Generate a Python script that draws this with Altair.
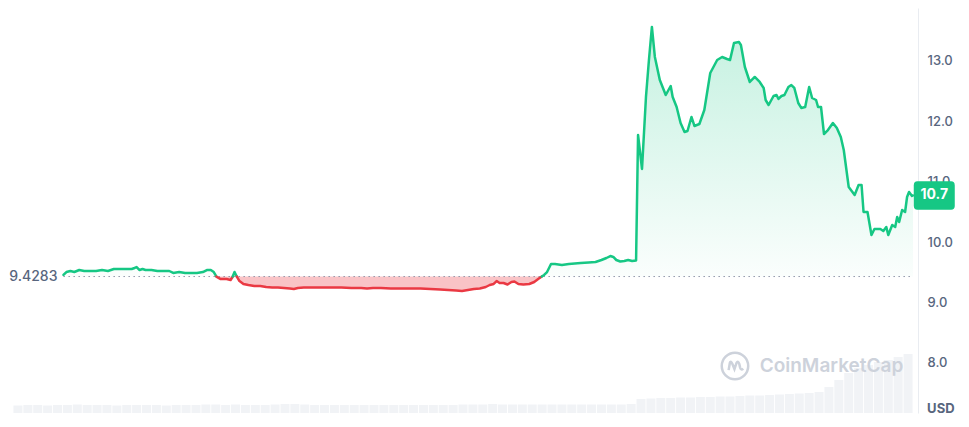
import altair as alt
import pandas as pd

BASE = 9.4283
BASE_LABEL = "9.4283"
LAST_LABEL = "10.7"
Y_TICKS = [8.0, 9.0, 10.0, 11.0, 12.0, 13.0]

# time (x position units) and price
T = [59, 62, 66, 70, 75, 80, 86, 92, 98, 104, 110, 116, 122, 128, 131, 133, 136, 139, 142, 148,
     154, 160, 166, 170, 176, 182, 188, 194, 200, 204, 208, 211, 214, 218, 224, 228, 230, 232, 234, 237,
     241, 246, 252, 258, 264, 270, 276, 282, 288, 292, 296, 302, 310, 320, 330, 340, 350, 360, 366, 372,
     380, 390, 400, 410, 420, 430, 440, 448, 456, 462, 468, 474, 480, 486, 490, 494, 497, 500, 504, 508,
     512, 515, 519, 524, 530, 535, 539, 542, 545, 548, 552, 556, 563, 570, 576, 582, 590, 597, 603, 608,
     612, 615, 618, 622, 626, 630, 634, 638, 640, 642, 644, 648, 651, 654, 657, 662, 668, 673, 675, 679,
     683, 687, 690, 694, 697, 702, 707, 713, 720, 725, 730, 733, 737, 742, 744, 748, 753, 758, 763, 767,
     769, 772, 777, 780, 782, 785, 788, 792, 795, 798, 802, 805, 809, 813, 816, 820, 822, 825, 828, 832,
     837, 841, 845, 848, 853, 856, 859, 863, 866, 868, 872, 876, 879, 885, 888, 891, 893, 897, 900, 902,
     904, 907, 910, 912, 914, 917, 918]
PRICE = [9.454, 9.503, 9.520, 9.503, 9.536, 9.520, 9.520, 9.520, 9.536, 9.520, 9.553, 9.553, 9.553, 9.553, 9.570, 9.586, 9.536, 9.553, 9.536, 9.536,
         9.520, 9.520, 9.520, 9.487, 9.503, 9.487, 9.487, 9.487, 9.503, 9.536, 9.536, 9.503, 9.421, 9.387, 9.387, 9.371, 9.421, 9.503, 9.437, 9.354,
         9.305, 9.288, 9.272, 9.272, 9.255, 9.247, 9.247, 9.238, 9.230, 9.222, 9.238, 9.247, 9.247, 9.247, 9.247, 9.247, 9.238, 9.238, 9.230, 9.238,
         9.238, 9.230, 9.230, 9.230, 9.230, 9.222, 9.214, 9.205, 9.197, 9.189, 9.205, 9.222, 9.230, 9.255, 9.288, 9.305, 9.354, 9.321, 9.321, 9.296,
         9.338, 9.346, 9.305, 9.296, 9.305, 9.338, 9.387, 9.421, 9.454, 9.503, 9.636, 9.636, 9.619, 9.636, 9.644, 9.652, 9.661, 9.669, 9.702, 9.735,
         9.768, 9.752, 9.702, 9.677, 9.685, 9.702, 9.685, 9.694, 11.772, 11.490, 11.209, 12.401, 13.013, 13.560, 13.063, 12.682, 12.434, 12.583, 12.401, 12.235,
         11.970, 11.821, 11.838, 12.070, 11.921, 11.954, 12.185, 12.798, 13.013, 13.063, 13.030, 13.013, 13.295, 13.311, 13.262, 12.897, 12.649, 12.732, 12.649, 12.550,
         12.351, 12.268, 12.417, 12.434, 12.368, 12.417, 12.434, 12.566, 12.599, 12.550, 12.301, 12.219, 12.235, 12.566, 12.384, 12.351, 12.235, 12.235, 11.788, 11.854,
         11.970, 11.887, 11.738, 11.523, 10.911, 10.845, 10.778, 10.944, 10.944, 10.497, 10.497, 10.116, 10.215, 10.215, 10.182, 10.248, 10.116, 10.281, 10.248, 10.414,
         10.331, 10.530, 10.497, 10.745, 10.828, 10.762, 10.770]

VOL_T = list(range(13, 914, 10))
VOL = [75, 80, 80, 75, 80, 80, 85, 80, 80, 80, 75, 80, 80, 80, 80, 75, 80, 80, 80, 85,
       85, 80, 85, 80, 80, 80, 85, 90, 90, 85, 80, 80, 80, 80, 80, 80, 80, 80, 80, 80,
       80, 80, 80, 80, 80, 85, 85, 85, 90, 85, 85, 85, 85, 85, 85, 85, 85, 85, 85, 85,
       85, 85, 90,
       140, 145, 150, 150, 155, 155, 160, 160, 165, 165, 170, 175, 175, 180, 185, 190, 195, 200, 210,
       260, 330, 400, 450, 480, 510, 530, 560, 590]

GREEN = "#16c784"
RED = "#ea3943"
LABEL_COLOR = "#58667e"

# ---- derived tables ----
rows = []
for i in range(len(T)):
    if i > 0:
        t0, p0, t1, p1 = T[i - 1], PRICE[i - 1], T[i], PRICE[i]
        if (p0 - BASE) * (p1 - BASE) < 0:
            tc = t0 + (BASE - p0) * (t1 - t0) / (p1 - p0)
            rows.append((tc, BASE))
    rows.append((T[i], PRICE[i]))

area_df = pd.DataFrame({"t": [r[0] for r in rows], "p": [r[1] for r in rows]})
area_df["up"] = area_df["p"].clip(lower=BASE)
area_df["down"] = area_df["p"].clip(upper=BASE)
area_df["base"] = BASE

runs = []
for i in range(len(rows) - 1):
    (t0, p0), (t1, p1) = rows[i], rows[i + 1]
    side = "up" if (p0 + p1) / 2 >= BASE else "down"
    if runs and runs[-1][0] == side:
        runs[-1][1].append((t1, p1))
    else:
        runs.append([side, [(t0, p0), (t1, p1)]])
line_recs = []
for k, (side, pts) in enumerate(runs):
    for t, p in pts:
        line_recs.append({"t": t, "p": p, "seg": k, "side": side})
line_df = pd.DataFrame(line_recs)

vol_df = pd.DataFrame({"t": VOL_T, "v": VOL})

xscale = alt.Scale(domain=[8, 918], nice=False, zero=False)
yscale = alt.Scale(domain=[7.169, 13.874], nice=False, zero=False)
yaxis = alt.Axis(orient="right", values=Y_TICKS, format=".1f", title=None, ticks=False,
                 labelPadding=9, labelFontSize=13, labelColor=LABEL_COLOR, labelFont="Inter",
                 labelFontWeight=500, gridColor="#eff2f5", domainColor="#e9ecf1",
                 labelAlign="left", labelBaseline="middle")


def X(f="t"):
    return alt.X(f, type="quantitative", scale=xscale, axis=None)


def Y(f):
    return alt.Y(f, type="quantitative", scale=yscale, axis=yaxis)


vol = alt.Chart(vol_df).mark_bar(width=9, color="#f1f3f6", clip=True).encode(
    x=X(),
    y=alt.Y("v:Q", scale=alt.Scale(domain=[0, 4050], nice=False), axis=None),
)

grad = alt.Gradient(
    gradient="linear",
    stops=[alt.GradientStop(color="rgba(22,199,132,0.25)", offset=0),
           alt.GradientStop(color="rgba(22,199,132,0.02)", offset=1)],
    x1=1, x2=1, y1=0, y2=1,
)
area_up = alt.Chart(area_df).mark_area(color=grad).encode(x=X(), y=Y("up"), y2="base")
area_dn = alt.Chart(area_df).mark_area(color=RED, opacity=0.3).encode(x=X(), y=Y("down"), y2="base")

base_df = pd.DataFrame({"t": [T[0]], "t2": [T[-1]], "p": [BASE], "label": [BASE_LABEL]})
base_rule = alt.Chart(base_df).mark_rule(color="#8f96a8", strokeDash=[1.5, 3.5], strokeWidth=1).encode(
    x=X(), x2="t2", y=Y("p"))
base_text = alt.Chart(base_df).mark_text(align="right", baseline="middle", dx=-6, fontSize=14,
                                         font="Inter", fontWeight=500, color=LABEL_COLOR).encode(
    x=X(), y=Y("p"), text="label")

line = alt.Chart(line_df).mark_line(strokeWidth=2.5, strokeJoin="round", strokeCap="round").encode(
    x=X(), y=Y("p"),
    color=alt.Color("side:N", scale=alt.Scale(domain=["up", "down"], range=[GREEN, RED]), legend=None),
    detail="seg:N", order="t:Q",
)

# watermark
wm_df = pd.DataFrame({"t": [738], "tt": [763], "p": [7.947], "label": ["CoinMarketCap"]})
wm_circle = alt.Chart(wm_df).mark_point(shape="circle", size=700, filled=False, stroke="#cdd2db",
                                        strokeWidth=2.5, opacity=1).encode(x=X(), y=Y("p"))
wm_wave = alt.Chart(wm_df).mark_point(
    shape="M-0.62,0.4 L-0.5,-0.3 Q-0.4,-0.55 -0.25,-0.2 L-0.05,0.3 L0.15,-0.3 Q0.3,-0.55 0.42,-0.2 L0.5,0.15 Q0.6,0.45 0.8,0.25",
    size=420, filled=False, stroke="#cdd2db", strokeWidth=2.5, opacity=1).encode(x=X(), y=Y("p"))
wm_text = alt.Chart(wm_df).mark_text(align="left", baseline="middle", fontSize=19, font="Inter",
                                     fontWeight=600, color="#cdd2db").encode(
    x=X("tt"), y=Y("p"), text="label")

# last price tag
last_df = pd.DataFrame({"t": [939.5], "p": [PRICE[-1]], "label": [LAST_LABEL]})
tag_box = alt.Chart(last_df).mark_point(
    shape="M-0.82,-0.69 L0.82,-0.69 Q1,-0.69 1,-0.5 L1,0.5 Q1,0.69 0.82,0.69 L-0.82,0.69 Q-1,0.69 -1,0.5 L-1,-0.5 Q-1,-0.69 -0.82,-0.69 Z",
    size=1681, filled=True, color=GREEN, opacity=1, strokeWidth=0).encode(x=X(), y=Y("p"))
tag_text = alt.Chart(last_df).mark_text(align="center", baseline="middle", fontSize=14, font="Inter",
                                        fontWeight=700, color="white").encode(x=X(), y=Y("p"), text="label")

usd_df = pd.DataFrame({"t": [960], "p": [7.235], "label": ["USD"]})
usd = alt.Chart(usd_df).mark_text(align="right", baseline="middle", fontSize=13, font="Inter",
                                  fontWeight=700, color=LABEL_COLOR).encode(x=X(), y=Y("p"), text="label")

price_layers = alt.layer(area_up, area_dn, wm_circle, wm_wave, wm_text, base_rule, base_text, line,
                         tag_box, tag_text, usd)

chart = alt.layer(vol, price_layers).resolve_scale(y="independent").properties(
    width=910, height=405, padding=0, background="white"
).configure_view(stroke=None)

chart.save("out.html", embed_options={"renderer": "svg", "actions": False})
